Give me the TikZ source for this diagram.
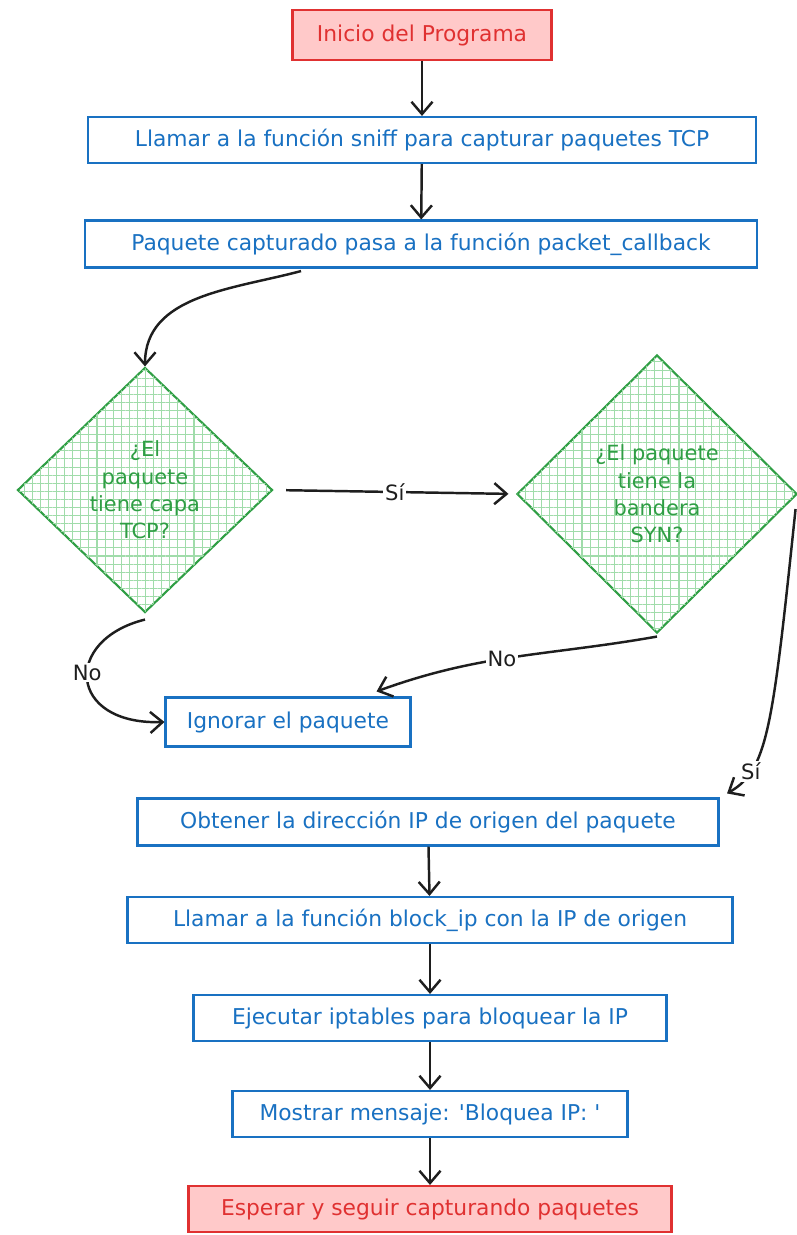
\documentclass[tikz,border=0pt]{standalone}
\usepackage{fontspec}
\setmainfont{DejaVu Sans}[Ligatures=TeXOff]
\usepackage{tikz}
\usetikzlibrary{arrows.meta,shapes.geometric,patterns.meta,calc}
\definecolor{xl_red}{RGB}{224, 49, 49}
\definecolor{xl_pink}{RGB}{255, 201, 201}
\definecolor{xl_blue}{RGB}{25, 113, 194}
\definecolor{xl_green}{RGB}{47, 158, 68}
\definecolor{xl_hatch}{RGB}{160, 220, 170}
\definecolor{xl_ink}{RGB}{30, 30, 30}
\tikzstyle{se}=[rectangle,fill=xl_pink,draw=xl_red,text=xl_red,
  line width=1.2pt,inner sep=3pt,font=\fontsize{12.4}{14}\selectfont]
\tikzstyle{proc}=[rectangle,fill=white,draw=xl_blue,text=xl_blue,
  line width=1.2pt,inner sep=3pt,font=\fontsize{12.4}{14}\selectfont]
\tikzstyle{dec}=[diamond,aspect=1,inner sep=0pt,fill=white,draw=xl_green,
  text=xl_green,line width=1.2pt,align=center,
  font=\fontsize{11.9}{15.5}\selectfont,
  postaction={pattern={Lines[angle=0,distance=4.6pt,line width=0.6pt]},pattern color=xl_hatch},
  postaction={pattern={Lines[angle=90,distance=4.6pt,line width=0.6pt]},pattern color=xl_hatch}]
\tikzstyle{arr}=[draw=xl_ink,line width=1.4pt,
  -{Straight Barb[length=7pt,width=12pt,line width=1.4pt]}]
\tikzstyle{lbl}=[fill=white,inner sep=1pt,text=xl_ink,
  font=\fontsize{12}{14}\selectfont]
\tikzstyle{none}=[]

\begin{document}
\begin{tikzpicture}
        \useasboundingbox (0,0) rectangle (15.94,-24.7);
        \node [style=se, minimum width=5.18cm, minimum height=1.0cm] (0) at (8.44,-0.70) {Inicio del Programa};
        \node [style=proc, minimum width=13.36cm, minimum height=0.92cm] (1) at (8.44,-2.80) {Llamar a la función sniff para capturar paquetes TCP};
        \node [style=proc, minimum width=13.44cm, minimum height=0.94cm] (2) at (8.42,-4.88) {Paquete capturado pasa a la función packet\_callback};
        \node [style=dec, minimum width=5.10cm, minimum height=4.90cm] (3) at (2.90,-9.80) {¿El\\paquete\\tiene capa\\TCP?};
        \node [style=dec, minimum width=5.60cm, minimum height=5.56cm] (4) at (13.14,-9.88) {¿El paquete\\tiene la\\bandera\\SYN?};
        \node [style=proc, minimum width=4.90cm, minimum height=0.98cm] (5) at (5.76,-14.44) {Ignorar el paquete};
        \node [style=proc, minimum width=11.62cm, minimum height=0.94cm] (6) at (8.56,-16.44) {Obtener la dirección IP de origen del paquete};
        \node [style=proc, minimum width=12.10cm, minimum height=0.92cm] (7) at (8.60,-18.40) {Llamar a la función block\_ip con la IP de origen};
        \node [style=proc, minimum width=9.46cm, minimum height=0.92cm] (8) at (8.60,-20.36) {Ejecutar iptables para bloquear la IP};
        \node [style=proc, minimum width=7.90cm, minimum height=0.92cm] (9) at (8.60,-22.28) {Mostrar mensaje: 'Bloquea IP: '};
        \node [style=se, minimum width=9.66cm, minimum height=0.92cm] (10) at (8.60,-24.18) {Esperar y seguir capturando paquetes};
        \draw [style=arr] (0) to (1);
        \draw [style=arr] (1) to (2);
        \draw [style=arr] ($(2.south)+(-2.4,-0.05)$) to[out=195,in=90] (3.north);
        \draw [style=arr, shorten <=0.25cm, shorten >=0.15cm] (3.east) to node [style=lbl] {Sí} (4.west);
        \draw [style=arr] ($(3.south)+(0,-0.12)$) .. controls (1.25,-12.8) and (1.35,-14.5) .. node [style=lbl, pos=0.45] {No} (5.west);
        \draw [style=arr] ($(4.south)+(0,-0.05)$) to[out=190,in=20] node [style=lbl, pos=0.55] {No} ($(5.north east)+(-0.7,0.1)$);
        \draw [style=arr] ($(4.east)+(-0.05,-0.3)$) .. controls (15.45,-14.6) and (15.35,-15.4) .. node [style=lbl, pos=0.76] {Sí} ($(6.north east)+(0.15,0.08)$);
        \draw [style=arr] (6) to (7);
        \draw [style=arr] (7) to (8);
        \draw [style=arr] (8) to (9);
        \draw [style=arr] (9) to (10);
    \end{tikzpicture}
\end{document}
